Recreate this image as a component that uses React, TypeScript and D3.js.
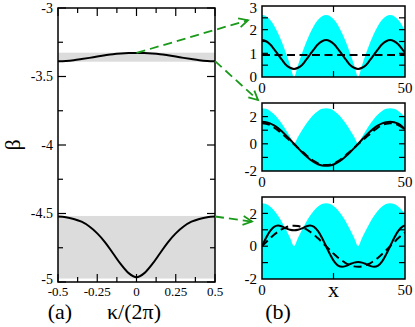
import React from 'react';
import * as d3 from 'd3';

const W = 415;
const H = 327;
const FONT = "'Liberation Serif', 'Times New Roman', serif";
const GREEN = '#1a9a1a';

// panel (a): bands
const kappa = [-0.5, -0.45, -0.4, -0.35, -0.3, -0.25, -0.2, -0.15, -0.1, -0.05, 0, 0.05, 0.1, 0.15, 0.2, 0.25, 0.3, 0.35, 0.4, 0.45, 0.5];
const upperBand = [-3.388, -3.386, -3.381, -3.373, -3.364, -3.354, -3.345, -3.337, -3.332, -3.329, -3.328, -3.329, -3.332, -3.337, -3.345, -3.354, -3.364, -3.373, -3.381, -3.386, -3.388];
const lowerBand = [-4.522, -4.527, -4.54, -4.56, -4.595, -4.645, -4.71, -4.79, -4.87, -4.935, -4.965, -4.935, -4.87, -4.79, -4.71, -4.645, -4.595, -4.56, -4.54, -4.527, -4.522];
const gapUpper = [-3.392, -3.326];
const gapLower = [-4.975, -4.518];
const aTicksX = [-0.5, -0.25, 0, 0.25, 0.5];
const aTickLabelsX = ['-0.5', '-0.25', '0', '0.25', '0.5'];
const aMinorX = [-0.375, -0.125, 0.125, 0.375];
const aTicksY = [-5, -4.5, -4, -3.5, -3];
const aTickLabelsY = ['-5', '-4.5', '-4', '-3.5', '-3'];
const aMinorY = [-4.75, -4.25, -3.75, -3.25];

// panel (b): profiles along x
const xs = [0, 1.4, 2.8, 4.2, 5.6, 7, 8.4, 9.8, 11.2, 12.6, 14, 15.4, 16.8, 18.2, 19.6, 21, 22.4, 23.8, 25.2, 26.6, 28, 29.4, 30.8, 32.2, 33.6, 35, 36.4, 37.8, 39.2, 40.6, 42, 43.4, 44.8, 46.2, 47.6, 49, 50];
const potential = [2.62, 2.57, 2.42, 2.18, 1.85, 1.46, 1.0, 0.51, 0, 0.51, 1.0, 1.46, 1.85, 2.18, 2.42, 2.57,
  2.62, 2.57, 2.42, 2.18, 1.85, 1.46, 1.0, 0.51, 0, 0.51, 1.0, 1.46, 1.85, 2.18, 2.42, 2.57,
  2.62, 2.57, 2.42, 2.18, 1.95];
const topSolid = [1.56, 1.51, 1.38, 1.18, 0.95, 0.72, 0.51, 0.39, 0.34, 0.39, 0.51, 0.72, 0.95, 1.18, 1.38, 1.51,
  1.56, 1.51, 1.38, 1.18, 0.95, 0.72, 0.51, 0.39, 0.34, 0.39, 0.51, 0.72, 0.95, 1.18, 1.38, 1.51,
  1.56, 1.51, 1.38, 1.18, 1.02];
const topDashedX = [0, 50];
const topDashed = [0.93, 0.93];
const midSolid = [1.62, 1.59, 1.5, 1.35, 1.15, 0.9, 0.62, 0.32, 0, -0.32, -0.62, -0.9, -1.15, -1.35, -1.5, -1.59, -1.62,
  -1.59, -1.5, -1.35, -1.15, -0.9, -0.62, -0.32, 0, 0.32, 0.62, 0.9, 1.15, 1.35, 1.5, 1.59, 1.62,
  1.59, 1.48, 1.28, 1.05];
const midDashed = [1.52, 1.48, 1.38, 1.2, 0.98, 0.74, 0.48, 0.22, -0.04, -0.3, -0.56, -0.82, -1.06, -1.28, -1.45, -1.54, -1.56,
  -1.54, -1.45, -1.28, -1.06, -0.82, -0.56, -0.3, -0.04, 0.22, 0.48, 0.74, 0.98, 1.2, 1.38, 1.48, 1.52,
  1.48, 1.38, 1.2, 1.0];
const botSolid = [0, 0.5, 0.92, 1.18, 1.26, 1.2, 1.09, 1.0, 0.97, 1.0, 1.09, 1.2, 1.26, 1.18, 0.92, 0.5, 0,
  -0.5, -0.92, -1.18, -1.26, -1.2, -1.09, -1.0, -0.97, -1.0, -1.09, -1.2, -1.26, -1.18, -0.92, -0.5, 0,
  0.5, 0.92, 1.18, 1.26];
const botDashed = [0, 0.24, 0.48, 0.7, 0.88, 1.04, 1.15, 1.23, 1.25, 1.23, 1.15, 1.04, 0.88, 0.7, 0.48, 0.24, 0,
  -0.24, -0.48, -0.7, -0.88, -1.04, -1.15, -1.23, -1.25, -1.23, -1.15, -1.04, -0.88, -0.7, -0.48, -0.24, 0,
  0.24, 0.48, 0.7, 0.83];
const topTicksY = [0.5, 1, 1.5, 2, 2.5];
const topLabelsY = [0, 1, 2, 3];
const lowTicksY = [-1, 0, 1, 2];
const lowLabelsY = [-2, 0, 2];
const bTicksX = [25];
const bLabelsX = [0, 50];

const ax = d3.scaleLinear().domain([-0.5, 0.5]).range([58, 215]);
const ay = d3.scaleLinear().domain([-5, -3]).range([282, 8]);
const bx = d3.scaleLinear().domain([0, 50]).range([262, 405]);

const panels = [
  { id: 'top', y: d3.scaleLinear().domain([0, 3]).range([77, 6]), ticks: topTicksY, labels: topLabelsY, solid: topSolid, dashed: topDashed, dashedX: topDashedX },
  { id: 'mid', y: d3.scaleLinear().domain([-2, 3]).range([171, 103]), ticks: lowTicksY, labels: lowLabelsY, solid: midSolid, dashed: midDashed, dashedX: xs },
  { id: 'bot', y: d3.scaleLinear().domain([-2, 3]).range([279, 197]), ticks: lowTicksY, labels: lowLabelsY, solid: botSolid, dashed: botDashed, dashedX: xs },
];

export default function App() {
  const bandLine = d3.line<number>()
    .x((_, i) => ax(kappa[i]))
    .y(d => ay(d))
    .curve(d3.curveCatmullRom);

  const [x0, x1] = ax.range();
  const [yb, yt] = ay.range();

  // arrows: from the band edges in (a) to the profiles in (b)
  const top = panels[0].y, mid = panels[1].y, bot = panels[2].y;
  const arrows = [
    [ax(0), ay(-3.328), bx(0) - 14, top(2.4)],
    [ax(0.5), ay(-3.388), bx(0) - 4, mid(3) - 3],
    [ax(0.5), ay(-4.522), bx(0) - 10, bot(1.5)],
  ];

  return (
    <svg width={W} height={H} style={{ position: 'absolute', left: 0, top: 0, background: '#fff' }} fontFamily={FONT}>
      <defs>
        <marker id="head" markerUnits="userSpaceOnUse" markerWidth={14} markerHeight={12} refX={10} refY={6} orient="auto">
          <path d="M1,1.5 L10,6 L1,10.5" fill="none" stroke={GREEN} strokeWidth={1.8} />
        </marker>
        {panels.map(p => (
          <clipPath id={`clip-${p.id}`} key={p.id}>
            <rect x={bx(0)} y={p.y.range()[1]} width={bx(50) - bx(0)} height={p.y.range()[0] - p.y.range()[1]} />
          </clipPath>
        ))}
      </defs>

      {/* panel (a) */}
      <rect x={x0} y={ay(gapUpper[1])} width={x1 - x0} height={ay(gapUpper[0]) - ay(gapUpper[1])} fill="#dcdcdc" />
      <rect x={x0} y={ay(gapLower[1])} width={x1 - x0} height={ay(gapLower[0]) - ay(gapLower[1])} fill="#dcdcdc" />
      <path d={bandLine(upperBand) || ''} fill="none" stroke="#000" strokeWidth={2} />
      <path d={bandLine(lowerBand) || ''} fill="none" stroke="#000" strokeWidth={2} />
      <rect x={x0} y={yt} width={x1 - x0} height={yb - yt} fill="none" stroke="#000" strokeWidth={1.5} />
      {aTicksX.concat(aMinorX).map(v => {
        const len = aTicksX.includes(v) ? 8 : 5;
        return (
          <g key={`ax${v}`} stroke="#000" strokeWidth={1.2}>
            <line x1={ax(v)} x2={ax(v)} y1={yb} y2={yb - len} />
            <line x1={ax(v)} x2={ax(v)} y1={yt} y2={yt + len} />
          </g>
        );
      })}
      {aTicksY.concat(aMinorY).map(v => {
        const len = aTicksY.includes(v) ? 8 : 5;
        return (
          <g key={`ay${v}`} stroke="#000" strokeWidth={1.2}>
            <line x1={x0} x2={x0 + len} y1={ay(v)} y2={ay(v)} />
            <line x1={x1} x2={x1 - len} y1={ay(v)} y2={ay(v)} />
          </g>
        );
      })}
      {aTicksX.map((v, i) => (
        <text key={`axl${v}`} x={ax(v)} y={296} fontSize={13} textAnchor="middle">{aTickLabelsX[i]}</text>
      ))}
      {aTicksY.map((v, i) => (
        <text key={`ayl${v}`} x={53} y={ay(v) - (v === -5 ? 3 : 0)} dy="0.35em" fontSize={14} textAnchor="end">{aTickLabelsY[i]}</text>
      ))}
      <text x={0} y={0} transform={`translate(20,${ay(-4)}) rotate(-90)`} fontSize={22} textAnchor="middle">β</text>
      <text x={134} y={319} fontSize={22} textAnchor="middle">κ/(2π)</text>
      <text x={60} y={319} fontSize={22} textAnchor="middle">(a)</text>

      {/* panel (b) */}
      {panels.map(p => {
        const y = p.y;
        const base = y.domain()[0];
        const area = d3.area<number>()
          .x((_, i) => bx(xs[i]))
          .y0(y(base))
          .y1(d => y(d))
          .curve(d3.curveMonotoneX);
        const solid = d3.line<number>()
          .x((_, i) => bx(xs[i]))
          .y(d => y(d))
          .curve(d3.curveCatmullRom);
        const dashed = d3.line<number>()
          .x((_, i) => bx(p.dashedX[i]))
          .y(d => y(d))
          .curve(d3.curveCatmullRom);
        const [pb, pt] = y.range();
        const l = bx(0), r = bx(50);
        return (
          <g key={p.id}>
            <g clipPath={`url(#clip-${p.id})`}>
              <path d={area(potential) || ''} fill="#00ffff" />
              <path d={dashed(p.dashed) || ''} fill="none" stroke="#000" strokeWidth={2} strokeDasharray="8,4.5" />
              <path d={solid(p.solid) || ''} fill="none" stroke="#000" strokeWidth={2} />
            </g>
            <rect x={l} y={pt} width={r - l} height={pb - pt} fill="none" stroke="#000" strokeWidth={1.5} />
            {p.ticks.map(v => (
              <g key={`t${v}`} stroke="#000" strokeWidth={1.2}>
                <line x1={l} x2={l + 6} y1={y(v)} y2={y(v)} />
                <line x1={r} x2={r - 6} y1={y(v)} y2={y(v)} />
              </g>
            ))}
            {bTicksX.map(v => (
              <g key={`tx${v}`} stroke="#000" strokeWidth={1.2}>
                <line x1={bx(v)} x2={bx(v)} y1={pt} y2={pt + 6} />
                <line x1={bx(v)} x2={bx(v)} y1={pb} y2={pb - 6} />
              </g>
            ))}
            {p.labels.map(v => (
              <text key={`l${v}`} x={257} y={y(v) + (v === 3 ? 1.5 : 0)} dy="0.35em" fontSize={15} textAnchor="end">{v}</text>
            ))}
            {bLabelsX.map(v => (
              <text key={`lx${v}`} x={bx(v)} y={pb + 16} fontSize={15} textAnchor="middle">{v}</text>
            ))}
          </g>
        );
      })}
      <text x={bx(25)} y={297} fontSize={22} textAnchor="middle">x</text>
      <text x={278} y={319} fontSize={22} textAnchor="middle">(b)</text>

      {arrows.map((a, i) => (
        <line key={`ar${i}`} x1={a[0]} y1={a[1]} x2={a[2]} y2={a[3]} stroke={GREEN} strokeWidth={1.8}
          strokeDasharray="9,5" markerEnd="url(#head)" />
      ))}
    </svg>
  );
}
